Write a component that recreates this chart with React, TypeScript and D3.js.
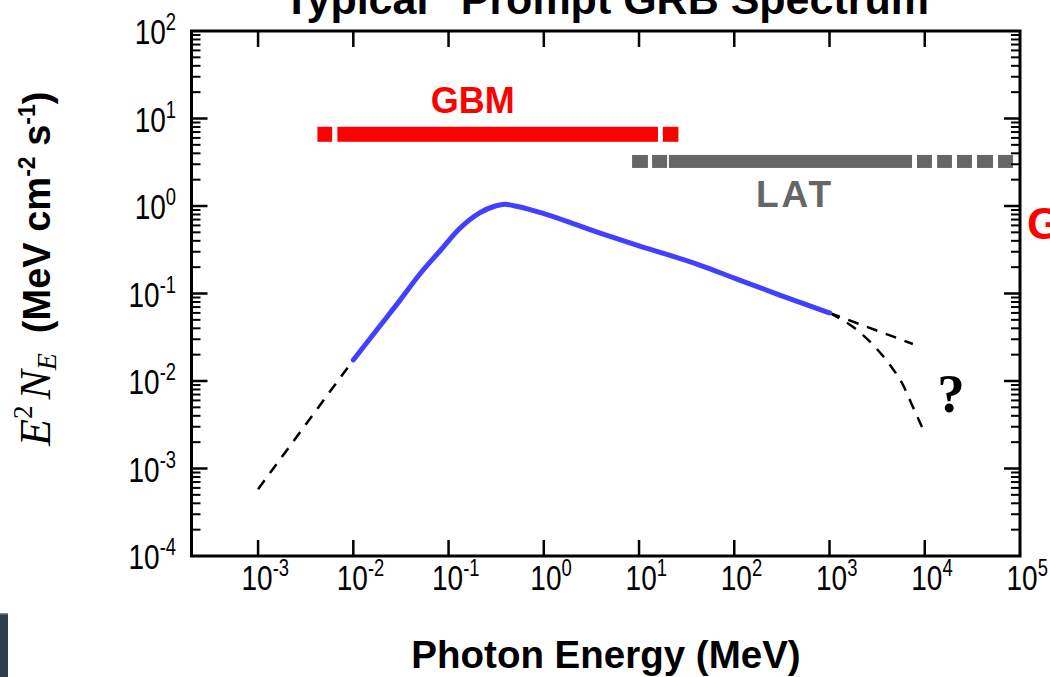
import React from "react";
import * as d3 from "d3";

// ---- data ----
const blueE = [0.01, 0.019, 0.031, 0.05, 0.082, 0.13, 0.21, 0.31, 0.39, 0.5, 0.72, 1.0, 3.9, 10, 44, 100, 300, 1000];
const blueV = [0.0174, 0.0425, 0.084, 0.167, 0.31, 0.55, 0.83, 1.0, 1.05, 1.0, 0.91, 0.82, 0.49, 0.35, 0.21, 0.15, 0.096, 0.06];
const lowDashE = [0.001, 0.01];
const lowDashV = [0.00058, 0.0174];
const highDashE = [1000, 7500];
const highDashV = [0.06, 0.0265];
const cutDashE = [1000, 1945, 3006, 4315, 5915, 7350, 9350];
const cutDashV = [0.06, 0.0383, 0.0245, 0.0152, 0.009, 0.00532, 0.00298];
const gbmStart = [0.0042, 0.0068, 17.8];
const gbmEnd = [0.006, 15.8, 25.9];
const gbmLevel = 6.6;
const latStart = [8.45, 13.7, 20.6, 8290, 13500, 21800, 35400, 58800];
const latEnd = [12.4, 19.7, 7350, 11900, 19300, 31300, 52100, 84500];
const latLevel = 3.23;
const xTickExps = ["-3", "-2", "-1", "0", "1", "2", "3", "4", "5"];
const yTickExps = ["-4", "-3", "-2", "-1", "0", "1", "2"];

const SANS = "'Liberation Sans', Arial, Helvetica, sans-serif";
const SERIF = "'Liberation Serif', 'Times New Roman', serif";

export default function App() {
  const left = 191.5, right = 1020, top = 31, bottom = 556;
  const x = d3.scaleLog().domain([2e-4, 1e5]).range([left, right]);
  const y = d3.scaleLog().domain([1e-4, 1e2]).range([bottom, top]);

  const line = d3
    .line<[number, number]>()
    .x((d) => x(d[0]))
    .y((d) => y(d[1]))
    .curve(d3.curveMonotoneX);
  const zip = (a: number[], b: number[]) => a.map((v, i) => [v, b[i]] as [number, number]);

  const minorY = y.ticks().filter((v) => {
    const l = Math.log10(v);
    return Math.abs(l - Math.round(l)) > 1e-6;
  });
  const majorY = yTickExps.map((e) => Math.pow(10, +e)).filter((v) => v > 1e-4 && v < 1e2);
  const majorX = xTickExps.map((e) => Math.pow(10, +e)).filter((v) => v < 1e5);

  return (
    <svg
      width={1050}
      height={677}
      style={{ position: "fixed", left: 0, top: 0, background: "#fff" }}
    >
      <rect x={0} y={0} width={1050} height={677} fill="#fff" />
      {/* title (cut off at top, as in the reference) */}
      <text x={596} y={14} textAnchor="middle" fontFamily={SANS} fontWeight="bold" fontSize={43} fill="#000">
        "Typical" Prompt GRB Spectrum
      </text>

      {/* slide decorations */}
      <text x={1027} y={239} fontFamily={SANS} fontWeight="bold" fontSize={45} fill="#ff0000">G</text>
      <rect x={0} y={613} width={8} height={64} fill="#2c3e50" />
      <rect x={0} y={613} width={8} height={1.5} fill="#7f8c8d" />

      {/* GBM bar */}
      {gbmStart.map((s, i) => (
        <rect key={"g" + i} x={x(s)} y={y(gbmLevel) - 7.5} width={x(gbmEnd[i]) - x(s)} height={15} fill="#ff0000" />
      ))}
      <text x={x(0.18)} y={y(11.6)} textAnchor="middle" fontFamily={SANS} fontWeight="bold" fontSize={36} fill="#ff0000">GBM</text>

      {/* LAT bar */}
      {latStart.map((s, i) => (
        <rect key={"l" + i} x={x(s)} y={y(latLevel) - 6.5} width={x(latEnd[i]) - x(s)} height={13} fill="#666666" />
      ))}
      <text x={x(435)} y={y(0.975)} textAnchor="middle" fontFamily={SANS} fontWeight="bold" fontSize={37} letterSpacing={3} fill="#666666">LAT</text>

      {/* dashed extrapolations */}
      <path d={line(zip(lowDashE, lowDashV)) || ""} fill="none" stroke="#000" strokeWidth={2.5} strokeDasharray="11,9" />
      <path d={line(zip(highDashE, highDashV)) || ""} fill="none" stroke="#000" strokeWidth={2.5} strokeDasharray="11,9" />
      <path d={line(zip(cutDashE, cutDashV)) || ""} fill="none" stroke="#000" strokeWidth={2.5} strokeDasharray="11,9" />

      {/* spectrum */}
      <path d={line(zip(blueE, blueV)) || ""} fill="none" stroke="#4040ff" strokeWidth={5} strokeLinecap="round" />

      <text x={x(13500)} y={y(0.0044)} fontFamily={SERIF} fontWeight="bold" fontSize={55} fill="#000">?</text>

      {/* ticks */}
      {majorX.map((v, i) => (
        <g key={"xt" + i}>
          <line x1={x(v)} x2={x(v)} y1={bottom} y2={bottom - 16} stroke="#000" strokeWidth={2.5} />
          <line x1={x(v)} x2={x(v)} y1={top} y2={top + 16} stroke="#000" strokeWidth={2.5} />
        </g>
      ))}
      {majorY.map((v, i) => (
        <g key={"yt" + i}>
          <line x1={left} x2={left + 16} y1={y(v)} y2={y(v)} stroke="#000" strokeWidth={2.5} />
          <line x1={right} x2={right - 16} y1={y(v)} y2={y(v)} stroke="#000" strokeWidth={2.5} />
        </g>
      ))}
      {minorY.map((v, i) => (
        <g key={"ym" + i}>
          <line x1={left} x2={left + 9} y1={y(v)} y2={y(v)} stroke="#000" strokeWidth={2} />
          <line x1={right} x2={right - 9} y1={y(v)} y2={y(v)} stroke="#000" strokeWidth={2} />
        </g>
      ))}

      {/* frame */}
      <rect x={left} y={top} width={right - left} height={bottom - top} fill="none" stroke="#000" strokeWidth={3} />

      {/* x tick labels */}
      {xTickExps.map((e) => (
        <g key={"xl" + e} transform={`translate(${x(Math.pow(10, +e))},590) scale(0.8,1)`}>
          <text x={9} y={0} textAnchor="middle" fontFamily={SANS} fontSize={35} fill="#000">
            10<tspan dy={-14} fontSize={23}>{e}</tspan>
          </text>
        </g>
      ))}
      {/* y tick labels */}
      {yTickExps.map((e) => (
        <g key={"yl" + e} transform={`translate(176,${y(Math.pow(10, +e)) + 13}) scale(0.8,1)`}>
          <text x={0} y={0} textAnchor="end" fontFamily={SANS} fontSize={35} fill="#000">
            10<tspan dy={-14} fontSize={23}>{e}</tspan>
          </text>
        </g>
      ))}

      {/* axis titles */}
      <text x={606} y={668} textAnchor="middle" fontFamily={SANS} fontWeight="bold" fontSize={38.5} fill="#000">
        Photon Energy (MeV)
      </text>
      <g transform="translate(50,446) rotate(-90)">
        <text x={0} y={0} fill="#000">
          <tspan fontFamily={SERIF} fontStyle="italic" fontSize={44}>E</tspan>
          <tspan fontFamily={SERIF} fontSize={27} dy={-18}>2</tspan>
          <tspan fontFamily={SERIF} fontStyle="italic" fontSize={44} dy={18} dx={6}>N</tspan>
          <tspan fontFamily={SERIF} fontStyle="italic" fontSize={28} dy={6}>E</tspan>
          <tspan fontFamily={SANS} fontWeight="bold" fontSize={38} dy={-6} dx={20}>(MeV cm</tspan>
          <tspan fontFamily={SANS} fontWeight="bold" fontSize={23} dy={-15}>-2</tspan>
          <tspan fontFamily={SANS} fontWeight="bold" fontSize={38} dy={15}> s</tspan>
          <tspan fontFamily={SANS} fontWeight="bold" fontSize={23} dy={-15}>-1</tspan>
          <tspan fontFamily={SANS} fontWeight="bold" fontSize={38} dy={15}>)</tspan>
        </text>
      </g>
    </svg>
  );
}
